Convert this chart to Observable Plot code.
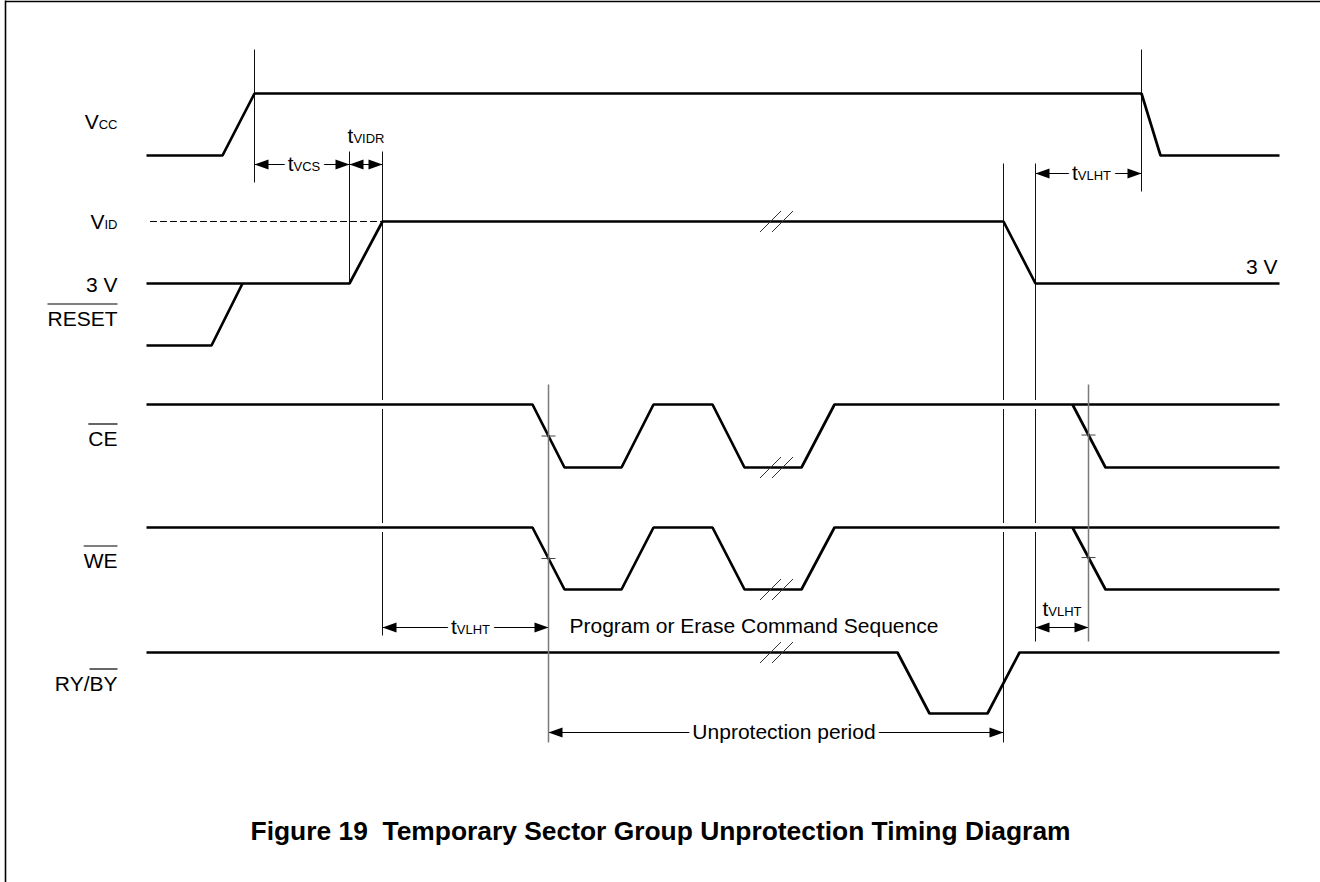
<!DOCTYPE html>
<html>
<head>
<meta charset="utf-8">
<script src="https://cdn.jsdelivr.net/npm/d3@7"></script>
<script src="https://cdn.jsdelivr.net/npm/@observablehq/plot@0.6"></script>
<style>
  html, body { margin: 0; padding: 0; background: #fff; overflow: hidden; }
  #chart svg { display: block; }
  #chart svg text { white-space: pre; }
</style>
</head>
<body>
<div id="chart"></div>
<script>
// ================= DATA =================
// Waveforms as [time, state]; state 0 = low, 1 = high (3 V for RESET), 2 = VID
const vccWave   = [[146,0],[222,0],[254,1],[1141,1],[1160,0],[1279,0]];
const resetWave = [[146,1],[349,1],[382,2],[1003,2],[1035,1],[1279,1]];
const resetRise = [[146,0],[211,0],[242,1]];
const ceWave    = [[146,1],[532,1],[564,0],[621,0],[653,1],[712,1],[744,0],[801,0],[834,1],[1279,1]];
const ceFall    = [[1072,1],[1105,0],[1279,0]];
const weWave    = [[146,1],[532,1],[564,0],[621,0],[653,1],[712,1],[744,0],[801,0],[834,1],[1279,1]];
const weFall    = [[1072,1],[1105,0],[1279,0]];
const rybyWave  = [[146,1],[897,1],[929,0],[987,0],[1019,1],[1279,1]];
const vidLevel  = [[150,2],[382,2]];

// Signal names (parts: sub = small subscript caps, bar = overline)
const signalLabels = [
  {id: "vcc",   parts: [{s: "V"}, {s: "CC", sub: 1}]},
  {id: "vid",   parts: [{s: "V"}, {s: "ID", sub: 1}]},
  {id: "v3",    parts: [{s: "3 V"}]},
  {id: "reset", parts: [{s: "RESET", bar: 1}]},
  {id: "ce",    parts: [{s: "CE", bar: 1}]},
  {id: "we",    parts: [{s: "WE", bar: 1}]},
  {id: "ryby",  parts: [{s: "RY/"}, {s: "BY", bar: 1}]}
];

// Timing parameters: [from, to] times
const timingDims = [
  {id: "vcs",    parts: [{s: "t"}, {s: "VCS", sub: 1}],  from: 254,  to: 349},
  {id: "vidr",   parts: [{s: "t"}, {s: "VIDR", sub: 1}], from: 349,  to: 382},
  {id: "vlht1",  parts: [{s: "t"}, {s: "VLHT", sub: 1}], from: 1035, to: 1141},
  {id: "vlht2",  parts: [{s: "t"}, {s: "VLHT", sub: 1}], from: 382,  to: 548},
  {id: "vlht3",  parts: [{s: "t"}, {s: "VLHT", sub: 1}], from: 1035, to: 1088},
  {id: "unprot", parts: [{s: "Unprotection period"}],    from: 548,  to: 1003}
];

const notes = [
  {id: "seq", parts: [{s: "Program or Erase Command Sequence"}]},
  {id: "v3r", parts: [{s: "3 V"}]}
];

const timeMarkers  = [254, 1141, 349, 382, 1003, 1035, 548, 1088];
const grayMarkers  = [548, 1088];
const gappedMarkers = [382, 1003, 1035];
const breakTime = 776;
const breakLanes = [["reset", 2], ["ce", 0], ["we", 0], ["ryby", 1]];
const edgeTicks = [["ce", ceWave, 548], ["we", weWave, 548], ["ce", ceFall, 1088], ["we", weFall, 1088]];
const title = "Figure 19  Temporary Sector Group Unprotection Timing Diagram";

// ================= LAYOUT =================
const W = 1320, H = 882;
const FONT = '"Liberation Sans", Arial, Helvetica, sans-serif';
const MAIN = 21, SUB = 13;
const laneY = {
  vcc:   {0: 155, 1: 93},
  reset: {0: 345, 1: 283, 2: 221},
  ce:    {0: 467, 1: 404},
  we:    {0: 589, 1: 527},
  ryby:  {0: 713, 1: 652}
};
const labelPos = {vcc: 128, vid: 228, v3: 291, reset: 325, ce: 445, we: 567, ryby: 690};
const labelRight = 117;
const dimLayout = {
  vcs:    {row: 164, inline: true, shift: 2},
  vidr:   {row: 164, labelY: 142},
  vlht1:  {row: 173, inline: true, shift: 3},
  vlht2:  {row: 627, inline: true, shift: 5},
  vlht3:  {row: 627, labelY: 615},
  unprot: {row: 732, inline: true, shift: 8}
};
const notePos = {seq: [569, 632, "start"], v3r: [1277, 273, "end"]};
const markerSpan = {254: [49, 182], 1141: [49, 191], 349: [151, 283], 382: [151, 635],
                    1003: [163, 742], 1035: [163, 641], 548: [384, 742], 1088: [384, 641]};

// ================= BUILD =================
const ctx = document.createElement("canvas").getContext("2d");
function tw(s, size, weight = "normal") { ctx.font = `${weight} ${size}px ${FONT}`; return ctx.measureText(s).width; }

function layoutParts(parts, x, y, anchor, halo = false) {
  const widths = parts.map(p => tw(p.s, p.sub ? SUB : MAIN));
  const total = d3.sum(widths);
  let cx = anchor === "end" ? x - total : anchor === "middle" ? x - total / 2 : x;
  return parts.map((p, i) => {
    const o = {text: p.s, x: cx, y, sub: !!p.sub, bar: !!p.bar, w: widths[i], halo};
    cx += widths[i];
    return o;
  });
}

const waves = [
  ["vcc", "vcc", vccWave], ["reset", "reset", resetWave], ["reset", "resetRise", resetRise],
  ["ce", "ce", ceWave], ["ce", "ceFall", ceFall], ["we", "we", weWave], ["we", "weFall", weFall],
  ["ryby", "ryby", rybyWave]
];
const waveRows = waves.flatMap(([lane, id, pts]) => pts.map(([t, s]) => ({id, x: t, y: laneY[lane][s]})));
const vidRows = vidLevel.map(([t, s]) => ({x: t, y: laneY.reset[s]}));

function levelAt(lane, pts, t) {
  for (let i = 1; i < pts.length; i++) {
    const [t0, s0] = pts[i - 1], [t1, s1] = pts[i];
    if (t >= t0 && t <= t1) {
      const y0 = laneY[lane][s0], y1 = laneY[lane][s1];
      return y0 + (y1 - y0) * (t - t0) / (t1 - t0);
    }
  }
  return laneY[lane][pts[0][1]];
}

// vertical time markers (split where they cross CE/WE high lines)
const gapYs = [laneY.ce[1], laneY.we[1]];
const markerSegs = [];
for (const t of timeMarkers) {
  const [a, b] = markerSpan[t];
  const gray = grayMarkers.includes(t);
  if (gappedMarkers.includes(t)) {
    let start = a;
    for (const g of gapYs) {
      if (g > a && g < b) { markerSegs.push({x: t, y1: start, y2: g - 4.5, gray}); start = g + 4.5; }
    }
    markerSegs.push({x: t, y1: start, y2: b, gray});
  } else markerSegs.push({x: t, y1: a, y2: b, gray});
}

// ticks where gray markers cross falling edges
const tickRows = edgeTicks.map(([lane, pts, t]) => ({x1: t - 7, x2: t + 7, y: levelAt(lane, pts, t)}));

// break marks
const breakRows = breakLanes.flatMap(([lane, s]) => [-6, 6].map(o => {
  const c = breakTime + o, y = laneY[lane][s];
  return {x1: c - 10.5, y1: y + 10.5, x2: c + 10.5, y2: y - 10.5};
}));

// dimension arrows
const L = 14, HW = 5;
const shaftRows = timingDims.map(d => ({x1: d.from, x2: d.to, y: dimLayout[d.id].row}));
const headRows = timingDims.flatMap(d => {
  const y = dimLayout[d.id].row;
  return [
    [d.id + "L", [[d.from, y], [d.from + L, y - HW], [d.from + L, y + HW]]],
    [d.id + "R", [[d.to, y], [d.to - L, y - HW], [d.to - L, y + HW]]]
  ].flatMap(([id, pts]) => pts.map(([x, yy]) => ({id, x, y: yy})));
});

// text pieces
let pieces = [];
for (const l of signalLabels) pieces.push(...layoutParts(l.parts, labelRight, labelPos[l.id], "end"));
for (const d of timingDims) {
  const lay = dimLayout[d.id];
  const cx = (d.from + d.to) / 2;
  if (lay.inline) pieces.push(...layoutParts(d.parts, cx + lay.shift, lay.row + 6, "middle", true));
  else pieces.push(...layoutParts(d.parts, cx, lay.labelY, "middle"));
}
for (const n of notes) { const [x, y, a] = notePos[n.id]; pieces.push(...layoutParts(n.parts, x, y, a)); }
const overlines = pieces.filter(p => p.bar).map(p => ({x1: p.x, x2: p.x + p.w, y: p.y - 21.5}));

const textMark = (arr, size, halo) => Plot.text(arr, {
  x: "x", y: "y", text: "text", textAnchor: "start", lineAnchor: "bottom",
  fontSize: size,
  ...(halo ? {fill: "white", stroke: "white", strokeWidth: 9, strokeLinejoin: "round"} : {fill: "black"})
});

const borders = [{x1: 5, y1: 0, x2: 5, y2: H}, {x1: 5, y1: 1, x2: W, y2: 1}];

const plot = Plot.plot({
  width: W, height: H, margin: 0,
  x: {domain: [0, W], range: [0, W], axis: null},
  y: {domain: [0, H], range: [0, H], axis: null},
  style: {fontFamily: FONT, background: "white", color: "black"},
  marks: [
    Plot.link(borders, {x1: "x1", y1: "y1", x2: "x2", y2: "y2", stroke: "black", strokeWidth: 1.6}),
    Plot.link(markerSegs.filter(d => !d.gray), {x1: "x", x2: "x", y1: "y1", y2: "y2", stroke: "#111", strokeWidth: 1}),
    Plot.line(vidRows, {x: "x", y: "y", stroke: "black", strokeWidth: 1.1, strokeDasharray: "6,4"}),
    Plot.link(shaftRows, {x1: "x1", x2: "x2", y1: "y", y2: "y", stroke: "black", strokeWidth: 1}),
    Plot.line(headRows, {x: "x", y: "y", z: "id", fill: "black", stroke: "none"}),
    Plot.line(waveRows, {x: "x", y: "y", z: "id", stroke: "black", strokeWidth: 2.7, strokeLinejoin: "miter", strokeLinecap: "butt"}),
    Plot.link(markerSegs.filter(d => d.gray), {x1: "x", x2: "x", y1: "y1", y2: "y2", stroke: "#7a7a7a", strokeWidth: 1.5}),
    Plot.link(tickRows, {x1: "x1", x2: "x2", y1: "y", y2: "y", stroke: "#444", strokeWidth: 1}),
    Plot.link(breakRows, {x1: "x1", y1: "y1", x2: "x2", y2: "y2", stroke: "#333", strokeWidth: 1}),
    // halos behind inline dimension labels (break the arrow shafts)
    textMark(pieces.filter(p => !p.sub && p.halo), MAIN, true),
    textMark(pieces.filter(p => p.sub && p.halo), SUB, true),
    // text
    textMark(pieces.filter(p => !p.sub), MAIN, false),
    textMark(pieces.filter(p => p.sub), SUB, false),
    Plot.link(overlines, {x1: "x1", x2: "x2", y1: "y", y2: "y", stroke: "black", strokeWidth: 1.2}),
    Plot.text([{text: title, x: W / 2, y: 839}], {x: "x", y: "y", text: "text", textAnchor: "middle", lineAnchor: "bottom",
      fontSize: 25, fontWeight: "bold", fill: "black"})
  ]
});

d3.select(plot).selectAll("text").filter(function () { return this.textContent === title; })
  .attr("textLength", 820).attr("lengthAdjust", "spacingAndGlyphs");

document.getElementById("chart").appendChild(plot);
</script>
</body>
</html>
